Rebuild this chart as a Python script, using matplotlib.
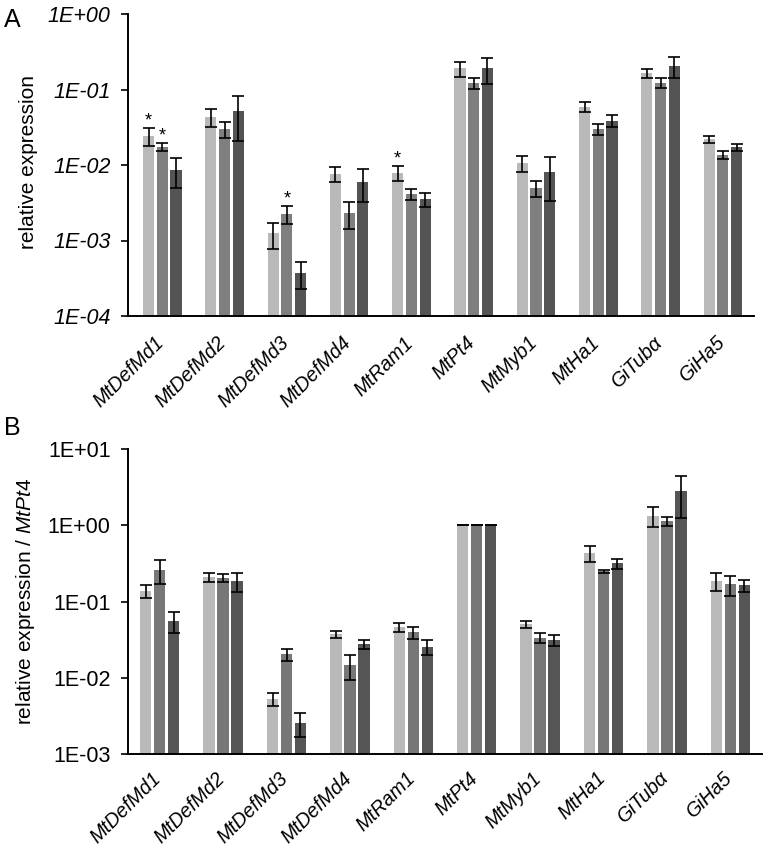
import numpy as np
import matplotlib
matplotlib.use("Agg")
import matplotlib.pyplot as plt
from matplotlib.ticker import FixedLocator, FixedFormatter, NullLocator
from matplotlib.transforms import ScaledTranslation

plt.rcParams['font.family'] = ['Liberation Sans', 'DejaVu Sans']
plt.rcParams['mathtext.fontset'] = 'custom'
plt.rcParams['mathtext.rm'] = 'Liberation Sans'
plt.rcParams['mathtext.it'] = 'Liberation Sans:italic'

genes = ["MtDefMd1", "MtDefMd2", "MtDefMd3", "MtDefMd4", "MtRam1",
         "MtPt4", "MtMyb1", "MtHa1", "GiTubα", "GiHa5"]

# Panel A: relative expression (three series) and standard errors
a_s1 = [0.0242, 0.0432, 0.00124, 0.0077, 0.0079, 0.190, 0.0106, 0.059, 0.164, 0.0219]
a_s2 = [0.0175, 0.0300, 0.00224, 0.0023, 0.0041, 0.122, 0.0050, 0.030, 0.123, 0.0137]
a_s3 = [0.0086, 0.0520, 0.000375, 0.0060, 0.0035, 0.190, 0.0080, 0.0386, 0.207, 0.0171]
a_e1 = [0.0064, 0.0115, 0.00047, 0.0018, 0.0017, 0.042, 0.0026, 0.0093, 0.022, 0.0024]
a_e2 = [0.0020, 0.0075, 0.00061, 0.0009, 0.0007, 0.020, 0.0012, 0.0047, 0.019, 0.0017]
a_e3 = [0.0036, 0.0310, 0.000145, 0.0028, 0.0007, 0.070, 0.0047, 0.0072, 0.066, 0.0018]
# significance stars in panel A: (gene index, series index)
a_stars = [(0, 0), (0, 1), (2, 1), (4, 0)]

# Panel B: relative expression / MtPt4
b_s1 = [0.138, 0.210, 0.00535, 0.0372, 0.0460, 1.0, 0.0508, 0.433, 1.34, 0.186]
b_s2 = [0.262, 0.206, 0.0206, 0.0146, 0.0395, 1.0, 0.0336, 0.249, 1.14, 0.170]
b_s3 = [0.0557, 0.186, 0.0026, 0.0275, 0.0257, 1.0, 0.0314, 0.318, 2.82, 0.164]
b_e1 = [0.026, 0.030, 0.0010, 0.0042, 0.0059, 0.0, 0.0057, 0.102, 0.375, 0.050]
b_e2 = [0.094, 0.024, 0.0037, 0.0053, 0.0072, 0.0, 0.0052, 0.0125, 0.160, 0.050]
b_e3 = [0.017, 0.052, 0.0009, 0.0035, 0.0057, 0.0, 0.0055, 0.0475, 1.560, 0.030]

a_ticks = [1e-4, 1e-3, 1e-2, 1e-1, 1e0]
a_ticklabels = ["1E-04", "1E-03", "1E-02", "1E-01", "1E+00"]
b_ticks = [1e-3, 1e-2, 1e-1, 1e0, 1e1]
b_ticklabels = ["1E-03", "1E-02", "1E-01", "1E+00", "1E+01"]

colors_a = ["#b9b9b9", "#7f7f7f", "#545454"]
colors_b = ["#b9b9b9", "#777777", "#555555"]

W, H = 763, 849
fig = plt.figure(figsize=(W / 100, H / 100), dpi=100)

def px_axes(left, top, right, bottom):
    return fig.add_axes([left / W, 1 - bottom / H, (right - left) / W, (bottom - top) / H])

axA = px_axes(128, 14, 754, 316)
axB = px_axes(128, 449, 762, 754.3)

x = np.arange(len(genes))
offs = [-0.22, 0.0, 0.22]
bw = 0.18

def draw(ax, series, errs, colors, ticks, ticklabels, italic_ticks, xlim, dy):
    for i, (s, e, c) in enumerate(zip(series, errs, colors)):
        ax.bar(x + offs[i], s, width=bw, color=c, zorder=2)
        ax.errorbar(x + offs[i], s, yerr=e, fmt='none', ecolor='black',
                    elinewidth=1.2, capsize=4.2, capthick=1.2, zorder=3)
    ax.set_yscale('log')
    ax.set_ylim(ticks[0], ticks[-1])
    ax.set_xlim(*xlim)
    ax.yaxis.set_major_locator(FixedLocator(ticks))
    ax.yaxis.set_major_formatter(FixedFormatter(ticklabels))
    ax.yaxis.set_minor_locator(NullLocator())
    ax.tick_params(axis='y', length=5, width=1.2, direction='out', pad=7.5, labelsize=15.5)
    for lab in ax.get_yticklabels():
        lab.set_style('italic' if italic_ticks else 'normal')
    ax.set_xticks(x)
    ax.set_xticklabels(genes, rotation=45, ha='right', rotation_mode='anchor',
                       fontstyle='italic', fontsize=14.2)
    ax.tick_params(axis='x', length=0, pad=8)
    shift = ScaledTranslation(-8 / 100, dy / 100, fig.dpi_scale_trans)
    for lab in ax.get_xticklabels():
        lab.set_transform(lab.get_transform() + shift)
    for sp in ['top', 'right']:
        ax.spines[sp].set_visible(False)
    for sp in ['left', 'bottom']:
        ax.spines[sp].set_linewidth(1.4)
    ax.set_facecolor('none')

draw(axA, [a_s1, a_s2, a_s3], [a_e1, a_e2, a_e3], colors_a, a_ticks, a_ticklabels, True, (-0.55, 9.5), -6)
draw(axB, [b_s1, b_s2, b_s3], [b_e1, b_e2, b_e3], colors_b, b_ticks, b_ticklabels, False, (-0.5, 9.5), -3)

a_series = [a_s1, a_s2, a_s3]
a_errs = [a_e1, a_e2, a_e3]
for gi, si in a_stars:
    top = a_series[si][gi] + a_errs[si][gi]
    axA.annotate('*', (x[gi] + offs[si], top), xytext=(0, 2), textcoords='offset points',
                 ha='center', va='baseline', fontsize=13)

axA.set_ylabel('relative expression', fontsize=15)
axA.yaxis.set_label_coords(-0.143, 0.51)
axB.set_ylabel(r'relative expression / $\mathit{MtPt4}$', fontsize=15)
axB.yaxis.set_label_coords(-0.143, 0.5)

fig.text(4 / W, 1 - 20 / H, 'A', fontsize=18, va='center', ha='left')
fig.text(4 / W, 1 - 428 / H, 'B', fontsize=18, va='center', ha='left')

fig.savefig('out.png', dpi=100)
